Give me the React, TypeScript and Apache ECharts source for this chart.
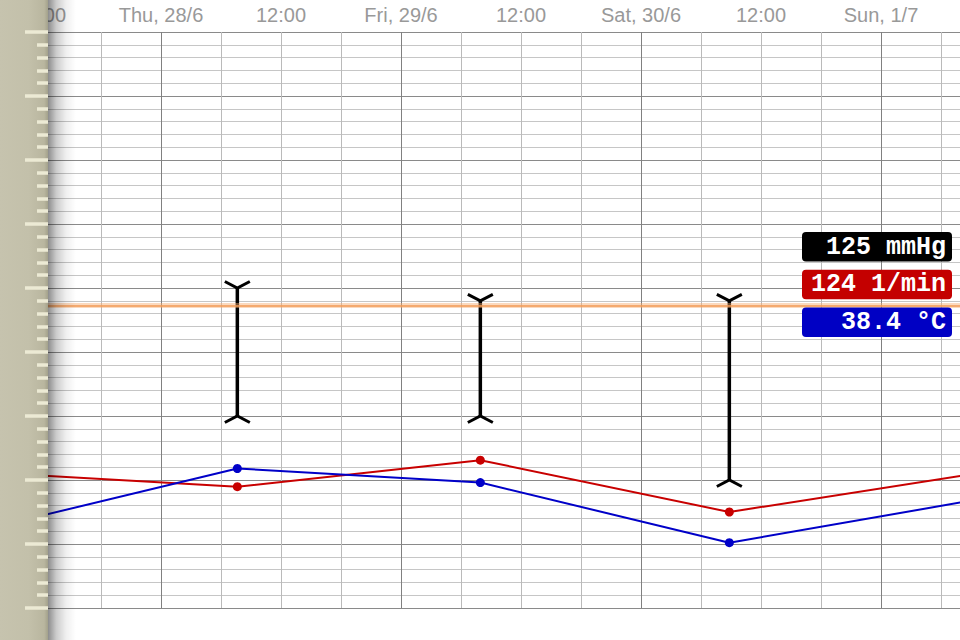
import React, { useEffect, useRef } from "react";
import * as echarts from "echarts";

// ---- data ----
const vitalTimes = ["2012-06-27 08:00", "2012-06-28 07:38", "2012-06-29 07:56", "2012-06-30 08:50", "2012-07-01 08:00"];
const pulseValues = [82.1, 77.9, 86.2, 70.0, 81.3]; // 1/min
const tempValues = [36.29, 37.18, 36.96, 36.02, 36.65]; // °C
const bpTimes = ["2012-06-28 07:38", "2012-06-29 07:56", "2012-06-30 08:50"];
const bpSystolic = [140, 136, 136]; // mmHg
const bpDiastolic = [100, 100, 80]; // mmHg
const thresholdValue = 134.6;
const axisStart = "2012-06-27 12:00";
const axisSpanHours = 91.9;
const weekdays = ["Sun", "Mon", "Tue", "Wed", "Thu", "Fri", "Sat"];
const legendTexts = ["125 mmHg", "124 1/min", "38.4 °C"];
const legendColors = ["#000000", "#c40000", "#0000c4"];

const HOUR = 3600 * 1000;
const ts = (s: string) => {
  const [d, t] = s.split(" ");
  const [Y, M, D] = d.split("-").map(Number);
  const [h, m] = t.split(":").map(Number);
  return Date.UTC(Y, M - 1, D, h, m);
};

export default function App() {
  const ref = useRef<HTMLDivElement>(null);
  useEffect(() => {
    document.body.style.margin = "0";
    const chart = echarts.init(ref.current!, undefined, { renderer: "svg" });
    const xMin = ts(axisStart);
    const xMax = xMin + axisSpanHours * HOUR;
    const fmt = (v: number) => {
      const d = new Date(v);
      if (d.getUTCMinutes() !== 0) return "";
      const h = d.getUTCHours();
      if (h === 0) return `${weekdays[d.getUTCDay()]}, ${d.getUTCDate()}/${d.getUTCMonth() + 1}`;
      if (h === 12) return "12:00";
      return "";
    };
    const legend: any[] = [];
    legendTexts.forEach((t, i) => {
      const y = 232 + i * 37.8;
      legend.push({
        type: "rect",
        z: 30,
        shape: { x: 802, y, width: 150, height: 29.5, r: 4 },
        style: { fill: legendColors[i] },
      });
      legend.push({
        type: "text",
        z: 31,
        x: 946,
        y: y + 15,
        style: {
          text: t,
          fill: "#ffffff",
          font: "bold 25px 'Liberation Mono', 'DejaVu Sans Mono', monospace",
          align: "right",
          verticalAlign: "middle",
        },
      });
    });

    const option: any = {
      animation: false,
      backgroundColor: "#ffffff",
      grid: { left: 41, right: 0, top: 32, bottom: 32, outerBoundsMode: "none" },
      xAxis: {
        type: "value",
        position: "top",
        min: xMin,
        max: xMax,
        interval: 6 * HOUR,
        axisLine: { show: false },
        axisTick: { show: false },
        axisLabel: {
          formatter: fmt,
          color: "#999999",
          fontSize: 20,
          fontFamily: "'Liberation Sans', Arial, sans-serif",
          margin: 7,
        },
        splitLine: {
          show: true,
          lineStyle: { color: ["#bababa", "#bababa", "#808080", "#bababa"], width: 1 },
        },
      },
      yAxis: [
        {
          type: "value",
          min: 40,
          max: 220,
          interval: 20,
          axisLine: { show: false },
          axisTick: { show: false },
          axisLabel: { show: false },
          splitLine: { show: true, lineStyle: { color: "#8a8a8a", width: 1 } },
          minorTick: { show: false, splitNumber: 5 },
          minorSplitLine: { show: true, lineStyle: { color: "#c6c6c6", width: 1 } },
        },
        {
          type: "value",
          min: 40,
          max: 220,
          interval: 20,
          position: "left",
          offset: -7,
          z: 20,
          axisLine: { show: false },
          axisLabel: { show: false },
          splitLine: { show: false },
          axisTick: { show: true, length: 23, lineStyle: { color: "#eceAd4", width: 3.5 } },
          minorTick: { show: true, splitNumber: 5, length: 11, lineStyle: { color: "#eceAd4", width: 3.5 } },
        },
        { type: "value", min: 35, max: 44, show: false },
      ],
      graphic: {
        elements: [
          {
            type: "rect",
            z: 15,
            shape: { x: 0, y: 0, width: 48, height: 640 },
            style: {
              fill: {
                type: "linear",
                x: 0,
                y: 0,
                x2: 1,
                y2: 0,
                colorStops: [
                  { offset: 0, color: "#c6c3ae" },
                  { offset: 0.6, color: "#c3c0aa" },
                  { offset: 0.92, color: "#b9b69f" },
                  { offset: 1, color: "#a3a18b" },
                ],
              },
            },
          },
          {
            type: "rect",
            z: 15,
            shape: { x: 48, y: 0, width: 28, height: 640 },
            style: {
              fill: {
                type: "linear",
                x: 0,
                y: 0,
                x2: 1,
                y2: 0,
                colorStops: [
                  { offset: 0, color: "rgba(0,0,0,0.45)" },
                  { offset: 0.3, color: "rgba(0,0,0,0.2)" },
                  { offset: 0.65, color: "rgba(0,0,0,0.06)" },
                  { offset: 1, color: "rgba(0,0,0,0)" },
                ],
              },
            },
          },
          ...legend,
        ],
      },
      series: [
        {
          type: "line",
          name: "Pulse",
          yAxisIndex: 0,
          z: 3,
          data: vitalTimes.map((t, i) => [ts(t), pulseValues[i]]),
          lineStyle: { color: "#c80000", width: 2 },
          itemStyle: { color: "#c80000" },
          symbol: "circle",
          symbolSize: 9,
          showAllSymbol: true,
          markLine: {
            silent: true,
            symbol: "none",
            label: { show: false },
            emphasis: { disabled: true },
            data: [
              { yAxis: thresholdValue, lineStyle: { color: "rgba(246,170,110,0.45)", width: 5, type: "solid" } },
              { yAxis: thresholdValue, lineStyle: { color: "#f29a55", width: 1.6, type: "solid" } },
            ],
          },
        },
        {
          type: "line",
          name: "Temperature",
          yAxisIndex: 2,
          z: 3,
          data: vitalTimes.map((t, i) => [ts(t), tempValues[i]]),
          lineStyle: { color: "#0000c8", width: 2 },
          itemStyle: { color: "#0000c8" },
          symbol: "circle",
          symbolSize: 9,
          showAllSymbol: true,
        },
        {
          type: "custom",
          name: "Blood pressure",
          yAxisIndex: 0,
          z: 4,
          data: bpTimes.map((t, i) => [ts(t), bpSystolic[i], bpDiastolic[i]]),
          encode: { x: 0, y: [1, 2] },
          renderItem: (params: any, api: any) => {
            const t = api.value(0);
            const top = api.coord([t, api.value(1)]);
            const bot = api.coord([t, api.value(2)]);
            const x = top[0];
            const w = 12.5;
            const h = 6.5;
            const st = { stroke: "#000", lineWidth: 3, fill: null };
            return {
              type: "group",
              children: [
                { type: "line", shape: { x1: x, y1: top[1], x2: x, y2: bot[1] }, style: { stroke: "#000", lineWidth: 3.5 } },
                { type: "polyline", shape: { points: [[x - w, top[1] - h], [x, top[1]], [x + w, top[1] - h]] }, style: st },
                { type: "polyline", shape: { points: [[x - w, bot[1] + h], [x, bot[1]], [x + w, bot[1] + h]] }, style: st },
              ],
            };
          },
        },
      ],
    };
    chart.setOption(option);
    return () => chart.dispose();
  }, []);
  return <div ref={ref} style={{ width: 960, height: 640 }} />;
}
